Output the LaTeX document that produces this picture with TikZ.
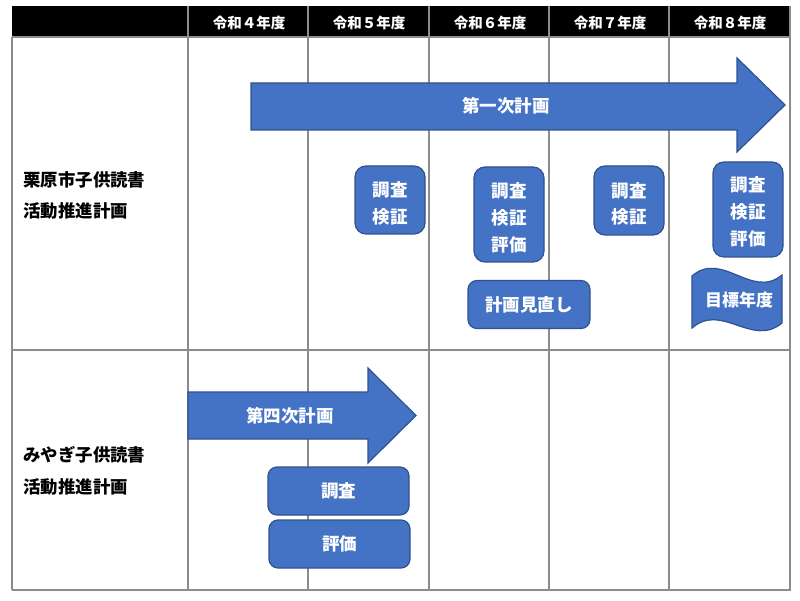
\documentclass[tikz,border=0pt]{standalone}
\usepackage{fontspec}
\newfontfamily\jp{Noto Sans CJK JP}
\definecolor{boxblue}{HTML}{4472C4}
\definecolor{boxedge}{HTML}{2F528F}
\definecolor{grid}{HTML}{8C8C8C}
\tikzset{
  gridline/.style={draw=grid, line width=1.3pt},
  hdr/.style={text=white, font=\jp\bfseries\fontsize{14.5}{16}\selectfont},
  rowlbl/.style={anchor=west, align=left, text=black, font=\jp\bfseries\fontsize{17.4}{31.5}\selectfont},
  bluebox/.style={draw=boxedge, fill=boxblue, line width=1.2pt, rounded corners=11pt, text=white, align=center, inner sep=0pt, font=\jp\bfseries\fontsize{17.5}{26.7}\selectfont},
  boxtxt/.style={text=white, align=center, inner sep=0pt, font=\jp\bfseries\fontsize{17.5}{26.7}\selectfont},
  blueshape/.style={draw=boxedge, fill=boxblue, line width=1.2pt},
  lbl/.style={text=white, font=\jp\bfseries\fontsize{17.5}{20}\selectfont},
}
\begin{document}
\begin{tikzpicture}[x=1pt, y=-1pt]
\useasboundingbox (0,0) rectangle (800,601);
\fill[white] (0,0) rectangle (800,601);
% header
\fill[black] (12,6) rectangle (790,37);
\foreach \x in {188,308,429,549,669} \draw[gridline] (\x,6) -- (\x,37);
\node[hdr] (h4) at (249,22.5) {令和４年度};
\node[hdr] (h5) at (369,22.5) {令和５年度};
\node[hdr] (h6) at (490,22.5) {令和６年度};
\node[hdr] (h7) at (610,22.5) {令和７年度};
\node[hdr] (h8) at (730,22.5) {令和８年度};
% grid
\draw[gridline] (12,37) -- (790,37);
\draw[gridline] (12,350) -- (790,350);
\foreach \x in {12,188,308,429,549,669} \draw[gridline] (\x,37) -- (\x,590);
\draw[draw=grid, line width=2pt] (790,6) -- (790,591);
\draw[draw=grid, line width=2pt] (12,590) -- (791,590);
% row labels
\node[rowlbl] (r1) at (20,195.5) {栗原市子供読書\\活動推進計画};
\node[rowlbl] (r2) at (20,471) {みやぎ子供読書\\活動推進計画};
% big arrow
\draw[blueshape] (251,83) -- (737,83) -- (737,58) -- (785,105) -- (737,152) -- (737,130) -- (251,130) -- cycle;
\node[lbl] (a1) at (506,106) {第一次計画};
% small arrow
\draw[blueshape] (188,392) -- (368,392) -- (368,368) -- (416,415.5) -- (368,463) -- (368,439) -- (188,439) -- cycle;
\node[lbl] (a2) at (290,415.5) {第四次計画};
% boxes row 1
\node[bluebox, minimum width=70pt, minimum height=68pt] (bA) at (390,200) {};
\node[boxtxt] (tA) at (390,203.5) {調査\\検証};
\node[bluebox, minimum width=70pt, minimum height=95pt] (bB) at (509,214.5) {};
\node[boxtxt] (tB) at (509,218) {調査\\検証\\評価};
\node[bluebox, rounded corners=9pt, minimum width=122pt, minimum height=48pt] (bM) at (529,304.5) {計画見直し};
\node[bluebox, minimum width=70pt, minimum height=69pt] (bC) at (629,200.5) {};
\node[boxtxt] (tC) at (629,204) {調査\\検証};
\node[bluebox, minimum width=70pt, minimum height=95pt] (bD) at (748,209.5) {};
\node[boxtxt] (tD) at (748,212) {調査\\検証\\評価};
% wave
\draw[blueshape] (692,276) .. controls (722,250) and (752,300) .. (782,275) -- (782,323) .. controls (752,348) and (722,302) .. (692,328) -- cycle;
\node[lbl, font=\jp\bfseries\fontsize{17}{20}\selectfont] (wv) at (739,300) {目標年度};
% boxes row 2
\node[bluebox, rounded corners=9pt, minimum width=141pt, minimum height=48pt] (bS) at (338.5,491) {調査};
\node[bluebox, rounded corners=9pt, minimum width=141pt, minimum height=48pt] (bE) at (339.5,544) {評価};
\end{tikzpicture}
\end{document}
